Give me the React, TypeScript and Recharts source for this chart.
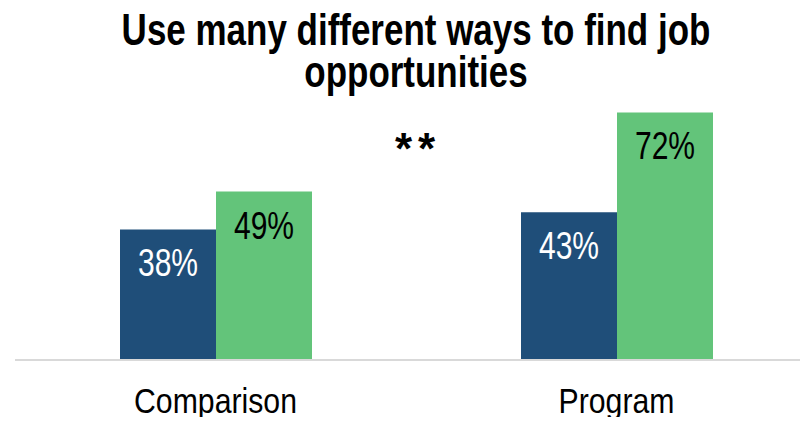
import React from 'react';
import { BarChart, Bar, XAxis, YAxis, LabelList } from 'recharts';

const categories = ['Comparison', 'Program'];
const comparisonGroup = [38, 43];
const programGroup = [49, 72];
const titleLines = ['Use many different ways to find job', 'opportunities'];
const significance = '**';

const data = categories.map((name, i) => ({
  name,
  blue: comparisonGroup[i],
  green: programGroup[i],
}));

const FONT = "'Liberation Sans', Arial, sans-serif";

// squeeze text horizontally around its anchor to imitate a narrow face
const squeeze = (cx: number, k: number) => `translate(${cx} 0) scale(${k} 1) translate(${-cx} 0)`;

// value label sits inside the bar, a fixed distance below its top
const makeLabel = (color: string) => (props: any) => {
  const { x, y, width, value } = props;
  const cx = x + width / 2;
  return (
    <text
      x={cx}
      y={y + 47}
      textAnchor="middle"
      fill={color}
      fontSize={39}
      fontFamily={FONT}
      transform={squeeze(cx, 0.77)}
    >
      {value}%
    </text>
  );
};

const CategoryTick = (props: any) => {
  const { x, y, payload } = props;
  return (
    <text
      x={x}
      y={y + 53}
      textAnchor="middle"
      fill="#000"
      fontSize={36}
      fontFamily={FONT}
      transform={squeeze(x, 0.84)}
    >
      {payload.value}
    </text>
  );
};

const App: React.FC = () => {
  return (
    <div
      style={{
        position: 'relative',
        width: 808,
        height: 425,
        margin: -8,
        overflow: 'hidden',
        background: '#fff',
      }}
    >
      <BarChart
        width={817}
        height={425}
        data={data}
        margin={{ top: 85, right: 0, bottom: 0, left: 15 }}
        barGap={0}
        barSize={96}
        style={{ position: 'absolute', left: 0, top: 0 }}
      >
        <XAxis
          dataKey="name"
          axisLine={{ stroke: '#d9d9d9', strokeWidth: 2 }}
          tickLine={false}
          tickSize={0}
          tickMargin={0}
          height={65}
          tick={<CategoryTick />}
          interval={0}
        />
        <YAxis hide domain={[0, 80]} />
        <Bar dataKey="blue" fill="#1F4E79" isAnimationActive={false}>
          <LabelList dataKey="blue" content={makeLabel('#ffffff')} />
        </Bar>
        <Bar dataKey="green" fill="#63C47A" isAnimationActive={false}>
          <LabelList dataKey="green" content={makeLabel('#000000')} />
        </Bar>
      </BarChart>
      <svg
        width={808}
        height={180}
        style={{ position: 'absolute', left: 0, top: 0, pointerEvents: 'none' }}
      >
        {titleLines.map((line, i) => (
          <text
            key={line}
            x={416}
            y={45 + i * 42.3}
            textAnchor="middle"
            fontFamily={FONT}
            fontWeight="bold"
            fontSize={44}
            fill="#000"
            transform={squeeze(416, 0.795)}
          >
            {line}
          </text>
        ))}
        <text
          x={418}
          y={164}
          textAnchor="middle"
          fontFamily={FONT}
          fontWeight="bold"
          fontSize={44}
          letterSpacing={6}
          fill="#000"
        >
          {significance}
        </text>
      </svg>
    </div>
  );
};

export default App;
